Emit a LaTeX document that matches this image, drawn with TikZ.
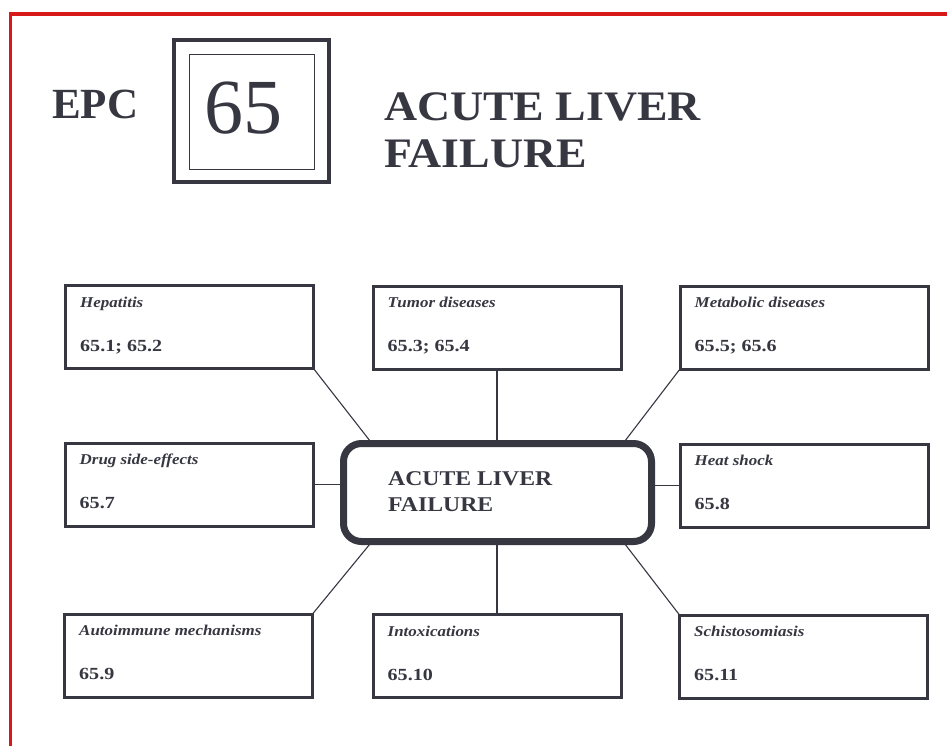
\documentclass[tikz,border=0pt]{standalone}
\usepackage{fontspec}
\setmainfont{Liberation Serif}
\newfontfamily\boxfam[FakeStretch=1.13]{Liberation Serif}
\newfontfamily\numfam[FakeStretch=1.18]{Liberation Serif}
\newfontfamily\titlefam[FakeStretch=1.09]{Liberation Serif}
\usetikzlibrary{calc}
\definecolor{ink}{RGB}{55,55,66}
\definecolor{frame}{RGB}{215,25,25}
\tikzset{
  catbox/.style={draw=ink, line width=3pt, fill=white, minimum width=248pt, minimum height=83pt, inner sep=0pt, outer sep=0pt},
  lbl/.style={anchor=base west, inner sep=0pt, text=ink, font=\boxfam\bfseries\itshape\fontsize{15}{18}\selectfont},
  num/.style={anchor=base west, inner sep=0pt, text=ink, font=\numfam\bfseries\fontsize{17}{20}\selectfont},
  link/.style={draw=ink, line width=1.1pt},
  ctrbox/.style={draw=ink, line width=7pt, fill=white, rounded corners=18pt, minimum width=308pt, minimum height=98pt, inner sep=0pt, outer sep=0pt},
  ctrtext/.style={anchor=base west, inner sep=0pt, text=ink, font=\boxfam\bfseries\fontsize{21}{24}\selectfont},
  headtext/.style={anchor=base west, inner sep=0pt, text=ink, font=\titlefam\bfseries\fontsize{42}{48}\selectfont}
}
\newcommand\mkcat[5]{%
  \node[catbox] (#1) at (#2,#3) {};
  \node[lbl] (#1-l) at ([xshift=14.5pt,yshift=-21.5pt]#1.north west) {#4};
  \node[num] (#1-n) at ([xshift=14.5pt,yshift=-65.5pt]#1.north west) {#5};
}
\begin{document}
\begin{tikzpicture}[x=1pt,y=-1pt]
  \useasboundingbox[fill=white] (0,0) rectangle (947,745);
  % red frame (only top and left edges visible)
  \draw[frame, line width=3.5pt] (10.5,760) -- (10.5,14) -- (960,14);
  % header
  \node[anchor=base west, inner sep=0pt, text=ink, font=\bfseries\fontsize{43}{48}\selectfont] (epc) at (52,118) {EPC};
  \node[draw=ink, line width=4pt, minimum width=155pt, minimum height=142pt, inner sep=0pt, outer sep=0pt] (box65) at (251.5,111) {};
  \node[draw=ink, line width=1pt, minimum width=125pt, minimum height=115pt, inner sep=0pt, outer sep=0pt] (box65in) at (251.5,111.5) {};
  \node[anchor=base, inner sep=0pt, text=ink, font=\fontsize{78}{90}\selectfont] (num65) at (243,133) {65};
  \node[headtext] (t1) at (384,120) {ACUTE LIVER};
  \node[headtext] (t2) at (384,167) {FAILURE};
  % centre
  \node[ctrbox] (ctr) at (497.5,492.5) {};
  \node[ctrtext] (ctr-l1) at (388,485) {ACUTE LIVER};
  \node[ctrtext] (ctr-l2) at (388,511) {FAILURE};
  % category boxes
  \mkcat{hep}{189.5}{327}{Hepatitis}{65.1; 65.2}
  \mkcat{tum}{497}{327.5}{Tumor diseases}{65.3; 65.4}
  \mkcat{met}{804}{327.5}{Metabolic diseases}{65.5; 65.6}
  \mkcat{drug}{189}{484.5}{Drug side-effects}{65.7}
  \mkcat{heat}{804}{485.5}{Heat shock}{65.8}
  \mkcat{auto}{188.5}{655.5}{Autoimmune mechanisms}{65.9}
  \mkcat{intox}{497}{656}{Intoxications}{65.10}
  \mkcat{sch}{803.5}{656.5}{Schistosomiasis}{65.11}
  % connectors
  \draw[link] (hep.south east) -- ([xshift=28.5pt]ctr.north west);
  \draw[link] (tum.south) -- (tum.south |- ctr.north);
  \draw[link] (met.south west) -- ([xshift=-28.5pt]ctr.north east);
  \draw[link] (drug.east) -- (drug.east -| ctr.west);
  \draw[link] (heat.west) -- (heat.west -| ctr.east);
  \draw[link] (auto.north east) -- ([xshift=28.5pt]ctr.south west);
  \draw[link] (intox.north) -- (intox.north |- ctr.south);
  \draw[link] (sch.north west) -- ([xshift=-28.5pt]ctr.south east);
\end{tikzpicture}
\end{document}
